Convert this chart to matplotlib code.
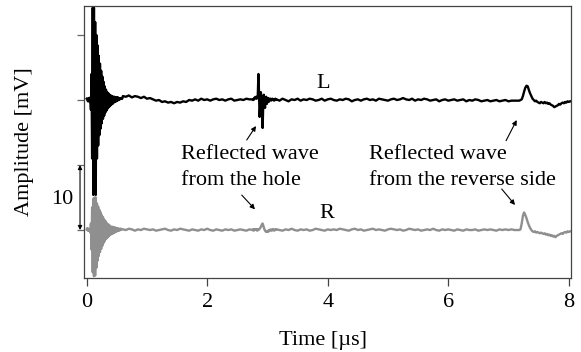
import numpy as np
import matplotlib
matplotlib.use("Agg")
import matplotlib.pyplot as plt

plt.rcParams['font.family'] = ['Liberation Serif', 'DejaVu Serif']
plt.rcParams['mathtext.fontset'] = 'stix'

# ---------------- data (amplitude in mV, sampled segments) ----------------
# segment start times [us] and sample steps [us]
seg_start = [0.00, 0.60, 2.75, 3.15, 7.18]
seg_step = [0.01, 0.05, 0.01, 0.05, 0.02]

L_ring = [0.2, 0.1, -0.2, 0.3, 0.0, -0.3, 0.4, -1.5, 4.0, -9.0,
          14.2, -14.6, 14.2, -14.0, 12.0, -14.6, 10.0, -9.0, 8.4, -7.0,
          6.8, -5.4, 5.6, -4.4, 4.5, -3.6, 3.6, -2.9, 2.8, -2.4,
          2.1, -1.9, 1.6, -1.6, 1.2, -1.3, 1.0, -1.1, 0.8, -0.9,
          0.7, -0.7, 0.6, -0.6, 0.5, -0.4, 0.5, -0.3, 0.4, -0.2,
          0.4, -0.1, 0.4, 0.0, 0.3, 0.1, 0.3, 0.2, 0.3, 0.2]
L_base1 = [0.6, 0.5, 0.7, 0.4, 0.6, 0.5, 0.3, 0.5, 0.2, 0.3,
           0.1, -0.1, 0.0, -0.3, -0.2, -0.4, -0.3, -0.5, -0.3, -0.4,
           -0.2, -0.3, 0.0, -0.1, 0.1, -0.1, 0.2, 0.0, 0.1, -0.1,
           0.1, 0.2, 0.0, 0.1, -0.1, 0.1, 0.2, -0.1, 0.0, 0.1,
           0.0, 0.2, 0.1]
L_hole = [0.1, 0.0, 0.2, 0.1, 0.4, 0.3, 0.5, 0.2, 0.3, 0.8,
          4.0, 1.0, -2.6, -1.0, 1.2, 0.5, -2.0, -4.3, -0.5, 0.8,
          -0.6, -1.2, 0.3, 0.5, -0.6, 0.2, 0.3, -0.3, 0.2, 0.0,
          0.2, -0.1, 0.1, 0.2, 0.0, 0.1, -0.1, 0.1, 0.2, 0.0]
L_base2 = [0.1, -0.1, 0.2, 0.0, -0.2, 0.1, 0.0, 0.2, -0.1, 0.1,
           0.0, 0.2, 0.1, -0.1, 0.0, 0.2, -0.1, 0.1, 0.2, 0.0,
           -0.1, 0.1, 0.0, 0.2, 0.1, -0.2, 0.0, 0.1, -0.1, 0.1,
           0.2, 0.0, 0.1, -0.1, 0.2, 0.1, 0.0, -0.1, 0.1, 0.2,
           0.0, 0.1, 0.3, 0.1, 0.0, 0.2, -0.1, 0.1, 0.0, 0.2,
           0.1, -0.1, 0.0, 0.1, -0.2, 0.0, 0.1, -0.1, 0.0, 0.1,
           -0.1, 0.0, 0.1, -0.2, 0.0, -0.1, 0.1, 0.0, -0.2, -0.1,
           0.0, -0.2, -0.1, 0.0, -0.2, -0.1, 0.0, -0.2, -0.1, -0.1,
           -0.1]
L_rev = [-0.1, 0.0, 0.1, 0.6, 1.3, 1.9, 2.2, 2.1, 1.5, 1.0,
         0.6, 0.2, 0.0, -0.2, -0.1, -0.3, -0.4, -0.5, -0.3, -0.4,
         -0.5, -0.3, -0.5, -0.4, -0.6, -0.5, -0.7, -0.8, -0.9, -1.1,
         -1.0, -0.9, -0.8, -0.6, -0.7, -0.5, -0.4, -0.5, -0.3, -0.4,
         -0.2, -0.3, -0.2, -0.2]

R_ring = [0.1, 0.3, -0.1, 0.2, -0.1, 0.0, -0.4, 1.0, -3.0, 3.5,
          -6.5, 4.8, -7.1, 5.0, -7.0, 5.0, -5.8, 4.1, -4.7, 3.6,
          -4.0, 3.1, -3.4, 2.7, -2.9, 2.3, -2.4, 2.0, -2.0, 1.6,
          -1.7, 1.4, -1.4, 1.1, -1.2, 0.9, -1.0, 0.8, -0.8, 0.6,
          -0.7, 0.5, -0.6, 0.5, -0.5, 0.4, -0.4, 0.4, -0.3, 0.3,
          -0.2, 0.3, -0.1, 0.2, -0.1, 0.2, 0.0, 0.2, 0.1, 0.1]
R_base1 = [0.1, 0.0, 0.2, 0.1, -0.1, 0.1, 0.0, 0.2, 0.1, 0.0,
           0.1, -0.1, 0.0, 0.1, 0.2, 0.0, -0.1, 0.1, 0.0, 0.2,
           0.1, 0.0, -0.1, 0.1, 0.0, -0.1, 0.1, 0.0, 0.2, 0.0,
           -0.1, 0.1, 0.0, -0.1, 0.1, 0.0, 0.1, -0.1, 0.0, 0.1,
           0.0, -0.1, 0.1]
R_hole = [0.0, 0.1, -0.1, 0.1, 0.0, 0.1, 0.0, 0.1, -0.1, 0.1,
          0.0, 0.1, 0.2, 0.3, 0.5, 0.7, 0.9, 1.0, 0.7, 0.4,
          0.1, -0.1, -0.2, -0.3, -0.2, -0.3, -0.1, -0.2, 0.0, -0.1,
          0.1, 0.0, -0.1, 0.1, 0.0, 0.1, -0.1, 0.0, 0.1, 0.0]
R_base2 = [0.1, 0.0, -0.1, 0.1, 0.0, 0.2, 0.0, -0.1, 0.1, 0.0,
           0.1, -0.1, 0.0, 0.2, 0.1, 0.0, -0.1, 0.1, 0.0, 0.1,
           0.0, 0.2, 0.1, 0.0, -0.1, 0.1, 0.2, 0.0, 0.1, -0.1,
           0.0, 0.1, 0.2, 0.0, 0.1, 0.0, -0.1, 0.1, 0.2, 0.1,
           0.0, 0.1, -0.1, 0.0, 0.2, 0.1, 0.0, 0.1, -0.1, 0.0,
           0.1, 0.0, 0.2, 0.0, -0.1, 0.1, 0.0, 0.1, 0.0, -0.1,
           0.1, 0.0, -0.1, 0.1, 0.0, 0.0, 0.1, -0.1, 0.0, 0.1,
           0.0, 0.1, 0.0, -0.1, 0.1, 0.0, 0.1, 0.0, 0.1, 0.0,
           0.0]
R_rev = [0.0, 0.1, 1.0, 2.2, 2.7, 2.3, 1.8, 1.2, 0.7, 0.3,
         0.0, -0.2, -0.3, -0.2, -0.4, -0.3, -0.4, -0.5, -0.4, -0.5,
         -0.6, -0.5, -0.7, -0.6, -0.8, -0.7, -0.9, -0.8, -1.0, -0.9,
         -1.1, -0.9, -0.8, -0.7, -0.6, -0.5, -0.6, -0.4, -0.3, -0.4,
         -0.2, -0.3, -0.2, -0.2]

x_ticks = [0, 2, 4, 6, 8]
y_ticks = [0, 10, 20, 30]
L_offset = 20
R_offset = 0
scale_bar = 10


def assemble(segments):
    ts, vs = [], []
    for st, dt, vals in zip(seg_start, seg_step, segments):
        ts.append(st + dt * np.arange(len(vals)))
        vs.append(np.asarray(vals, dtype=float))
    return np.concatenate(ts), np.concatenate(vs)


tL, vL = assemble([L_ring, L_base1, L_hole, L_base2, L_rev])
tR, vR = assemble([R_ring, R_base1, R_hole, R_base2, R_rev])

FS = 16

# ---------------- figure ----------------
fig = plt.figure(figsize=(5.81, 3.52), dpi=100)
ax = fig.add_axes([84 / 581, 1 - 278 / 352, (571 - 84) / 581, (278 - 6) / 352])

ax.plot(tR, vR + R_offset, color='#8f8f8f', lw=1.7)
ax.plot(tL, vL + L_offset, color='black', lw=1.7)

ax.set_xlim(-0.045, 8.038)
ax.set_ylim(-7.38, 34.46)
ax.set_xticks(x_ticks)
ax.set_xticklabels([str(v) for v in x_ticks])
ax.set_yticks(y_ticks)
ax.set_yticklabels([])
ax.tick_params(axis='x', direction='out', length=5.8, width=0.9, color='#444444',
               labelsize=FS, pad=5)
ax.tick_params(axis='y', direction='out', length=5, width=0.9, color='#666666')
for s in ax.spines.values():
    s.set_color('#444444')
    s.set_linewidth(0.9)

# scale bar
ax.annotate('', xy=(-0.111, R_offset), xytext=(-0.111, R_offset + scale_bar),
            xycoords='data', annotation_clip=False,
            arrowprops=dict(arrowstyle='<|-|>', lw=0.8, color='black',
                            mutation_scale=6, shrinkA=0, shrinkB=0))
ax.text(-0.226, R_offset + 4.77, '10', ha='right', va='center', fontsize=FS,
        clip_on=False)

# trace labels
ax.text(3.917, 22.6, 'L', ha='center', va='center', fontsize=FS)
ax.text(3.98, 2.6, 'R', ha='center', va='center', fontsize=FS)

# annotation texts
ax.text(1.573, 10.92, 'Reflected wave', ha='left', va='baseline', fontsize=FS)
ax.text(1.573, 6.92, 'from the hole', ha='left', va='baseline', fontsize=FS)
ax.text(4.685, 10.92, 'Reflected wave', ha='left', va='baseline', fontsize=FS)
ax.text(4.685, 6.92, 'from the reverse side', ha='left', va='baseline', fontsize=FS)

arrow_kw = dict(arrowstyle='-|>', lw=0.8, color='black', mutation_scale=7,
                shrinkA=0, shrinkB=0)
ax.annotate('', xy=(2.81, 16.0), xytext=(2.656, 13.85), arrowprops=arrow_kw)
ax.annotate('', xy=(2.793, 3.18), xytext=(2.573, 5.38), arrowprops=arrow_kw)
ax.annotate('', xy=(7.137, 16.92), xytext=(6.96, 13.74), arrowprops=arrow_kw)
ax.annotate('', xy=(7.109, 3.85), xytext=(6.888, 6.31), arrowprops=arrow_kw)

fig.text(323 / 581, 1 - 340 / 352, 'Time [µs]', ha='center', va='center', fontsize=FS)
fig.text(25 / 581, 1 - 142 / 352, 'Amplitude [mV]', ha='center', va='center',
         rotation=90, fontsize=FS)

fig.savefig('out.png', dpi=100)
